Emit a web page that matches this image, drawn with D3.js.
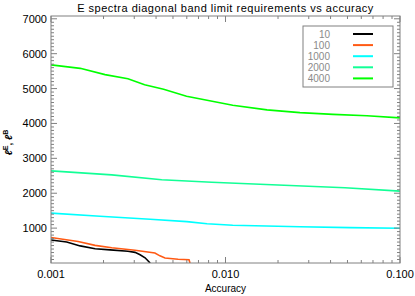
<!DOCTYPE html>
<html>
<head>
<meta charset="utf-8">
<script src="https://cdn.jsdelivr.net/npm/d3@7"></script>
<style>
  body { margin: 0; background: white; }
  svg { display: block; font-family: "Liberation Sans", Arial, sans-serif; }
</style>
</head>
<body>
<svg id="chart"></svg>
<script>
const WIDTH = 415, HEIGHT = 296;
const MARGIN = { left: 51, right: 15, top: 16, bottom: 33 };

// series names shown in the legend
const seriesNames = ["10", "100", "1000", "2000", "4000"];
const seriesColors = ["#000000", "#ff5a14", "#00ffff", "#12ff96", "#00ff00"];

// accuracy (x) / band limit (y)
const acc10 = [0.001, 0.00123, 0.00147, 0.00179, 0.00218, 0.00276, 0.00303, 0.00324, 0.00346, 0.0037];
const val10 = [660, 600, 490, 410, 375, 335, 305, 235, 150, 0];

const acc100 = [0.001, 0.00143, 0.00179, 0.00223, 0.00303, 0.00394, 0.00421, 0.0045, 0.00535, 0.00618, 0.00626];
const val100 = [730, 615, 505, 435, 365, 285, 205, 145, 108, 92, 0];

const acc1000 = [0.001, 0.00191, 0.0037, 0.00601, 0.00784, 0.011, 0.0267, 0.0516, 0.1];
const val1000 = [1430, 1340, 1255, 1185, 1125, 1080, 1040, 1015, 995];

const acc2000 = [0.001, 0.00223, 0.00431, 0.00834, 0.02, 0.0484, 0.1];
const val2000 = [2640, 2525, 2385, 2315, 2235, 2155, 2060];

const acc4000 = [0.001, 0.00147, 0.00204, 0.00276, 0.00344, 0.00442, 0.00598, 0.011, 0.0173, 0.0267, 0.0413, 0.0647, 0.1];
const val4000 = [5680, 5580, 5400, 5280, 5110, 4980, 4780, 4520, 4390, 4310, 4260, 4220, 4160];

const xTicks = [0.001, 0.01, 0.1];
const xTickLabels = ["0.001", "0.010", "0.100"];
const yTicks = [1000, 2000, 3000, 4000, 5000, 6000, 7000];

const series = [
  [acc10, val10], [acc100, val100], [acc1000, val1000], [acc2000, val2000], [acc4000, val4000]
].map(([a, v], i) => ({
  name: seriesNames[i],
  color: seriesColors[i],
  points: a.map((d, j) => ({ x: d, y: v[j] }))
}));

const svg = d3.select("#chart").attr("width", WIDTH).attr("height", HEIGHT);

const x = d3.scaleLog().domain([0.001, 0.1]).range([MARGIN.left, WIDTH - MARGIN.right]);
const y = d3.scaleLinear().domain([0, 7080]).range([HEIGHT - MARGIN.bottom, MARGIN.top]);

const x0 = x.range()[0], x1 = x.range()[1];
const y0 = y.range()[0], y1 = y.range()[1];
const frameColor = "#808080";

svg.append("clipPath").attr("id", "plot-clip")
  .append("rect").attr("x", x0).attr("y", y1).attr("width", x1 - x0).attr("height", y0 - y1);

// data lines
const line = d3.line().x(d => x(d.x)).y(d => y(d.y));
svg.append("g").attr("clip-path", "url(#plot-clip)")
  .selectAll("path")
  .data(series)
  .join("path")
  .attr("d", d => line(d.points))
  .attr("fill", "none")
  .attr("stroke", d => d.color)
  .attr("stroke-width", 1.6);

// frame
svg.append("rect")
  .attr("x", x0).attr("y", y1).attr("width", x1 - x0).attr("height", y0 - y1)
  .attr("fill", "none").attr("stroke", frameColor).attr("stroke-width", 1);

// x ticks (bottom and top, inward)
const xMinor = [];
for (let dec = 0.001; dec < 0.1; dec *= 10) {
  for (let k = 2; k <= 9; k++) xMinor.push(dec * k);
}
const xt = svg.append("g").attr("stroke", frameColor);
xTicks.concat(xMinor).forEach(v => {
  const len = xTicks.includes(v) ? 6 : 3;
  xt.append("line").attr("x1", x(v)).attr("x2", x(v)).attr("y1", y0).attr("y2", y0 - len);
  xt.append("line").attr("x1", x(v)).attr("x2", x(v)).attr("y1", y1).attr("y2", y1 + len);
});

// y ticks (left and right, inward)
const yt = svg.append("g").attr("stroke", frameColor);
for (let v = 100; v <= 7000; v += 100) {
  const len = v % 1000 === 0 ? 6 : 3;
  yt.append("line").attr("x1", x0).attr("x2", x0 + len).attr("y1", y(v)).attr("y2", y(v));
  yt.append("line").attr("x1", x1).attr("x2", x1 - len).attr("y1", y(v)).attr("y2", y(v));
}

// tick labels
svg.append("g").selectAll("text")
  .data(yTicks)
  .join("text")
  .attr("x", x0 - 4)
  .attr("y", d => y(d) + 4)
  .attr("text-anchor", "end")
  .style("font-size", "11px")
  .text(d => d);

svg.append("g").selectAll("text")
  .data(xTicks)
  .join("text")
  .attr("x", d => x(d))
  .attr("y", y0 + 15)
  .attr("text-anchor", "middle")
  .style("font-size", "11px")
  .text((d, i) => xTickLabels[i]);

// titles
svg.append("text")
  .attr("x", (x0 + x1) / 2).attr("y", 12)
  .attr("text-anchor", "middle")
  .style("font-size", "11px")
  .style("letter-spacing", "0.5px")
  .text("E spectra diagonal band limit requirements vs accuracy");

svg.append("text")
  .attr("x", (x0 + x1) / 2).attr("y", 292)
  .attr("text-anchor", "middle")
  .style("font-size", "10px")
  .text("Accuracy");

const yLab = svg.append("text")
  .attr("transform", `translate(12,${(y0 + y1) / 2 + 3}) rotate(-90)`)
  .attr("text-anchor", "middle")
  .style("font-size", "10px")
  .style("font-weight", "bold");
yLab.append("tspan").style("font-style", "italic").text("ℓ");
yLab.append("tspan").attr("dy", -4).style("font-size", "7px").text("E");
yLab.append("tspan").attr("dy", 4).text(", ");
yLab.append("tspan").style("font-style", "italic").text("ℓ");
yLab.append("tspan").attr("dy", -4).style("font-size", "7px").text("B");

// legend
const legend = svg.append("g");
legend.append("rect")
  .attr("x", 303).attr("y", 26).attr("width", 90).attr("height", 61)
  .attr("fill", "white").attr("stroke", frameColor);

const rows = legend.selectAll("g.row")
  .data(series)
  .join("g")
  .attr("class", "row")
  .attr("transform", (d, i) => `translate(0,${34 + i * 11.1})`);

rows.append("text")
  .attr("x", 330).attr("y", 4)
  .attr("text-anchor", "end")
  .style("font-size", "10px")
  .style("fill", "#8a8a8a")
  .text(d => d.name);

rows.append("line")
  .attr("x1", 353).attr("x2", 373)
  .attr("y1", 0).attr("y2", 0)
  .attr("stroke", d => d.color)
  .attr("stroke-width", 2);
</script>
</body>
</html>
